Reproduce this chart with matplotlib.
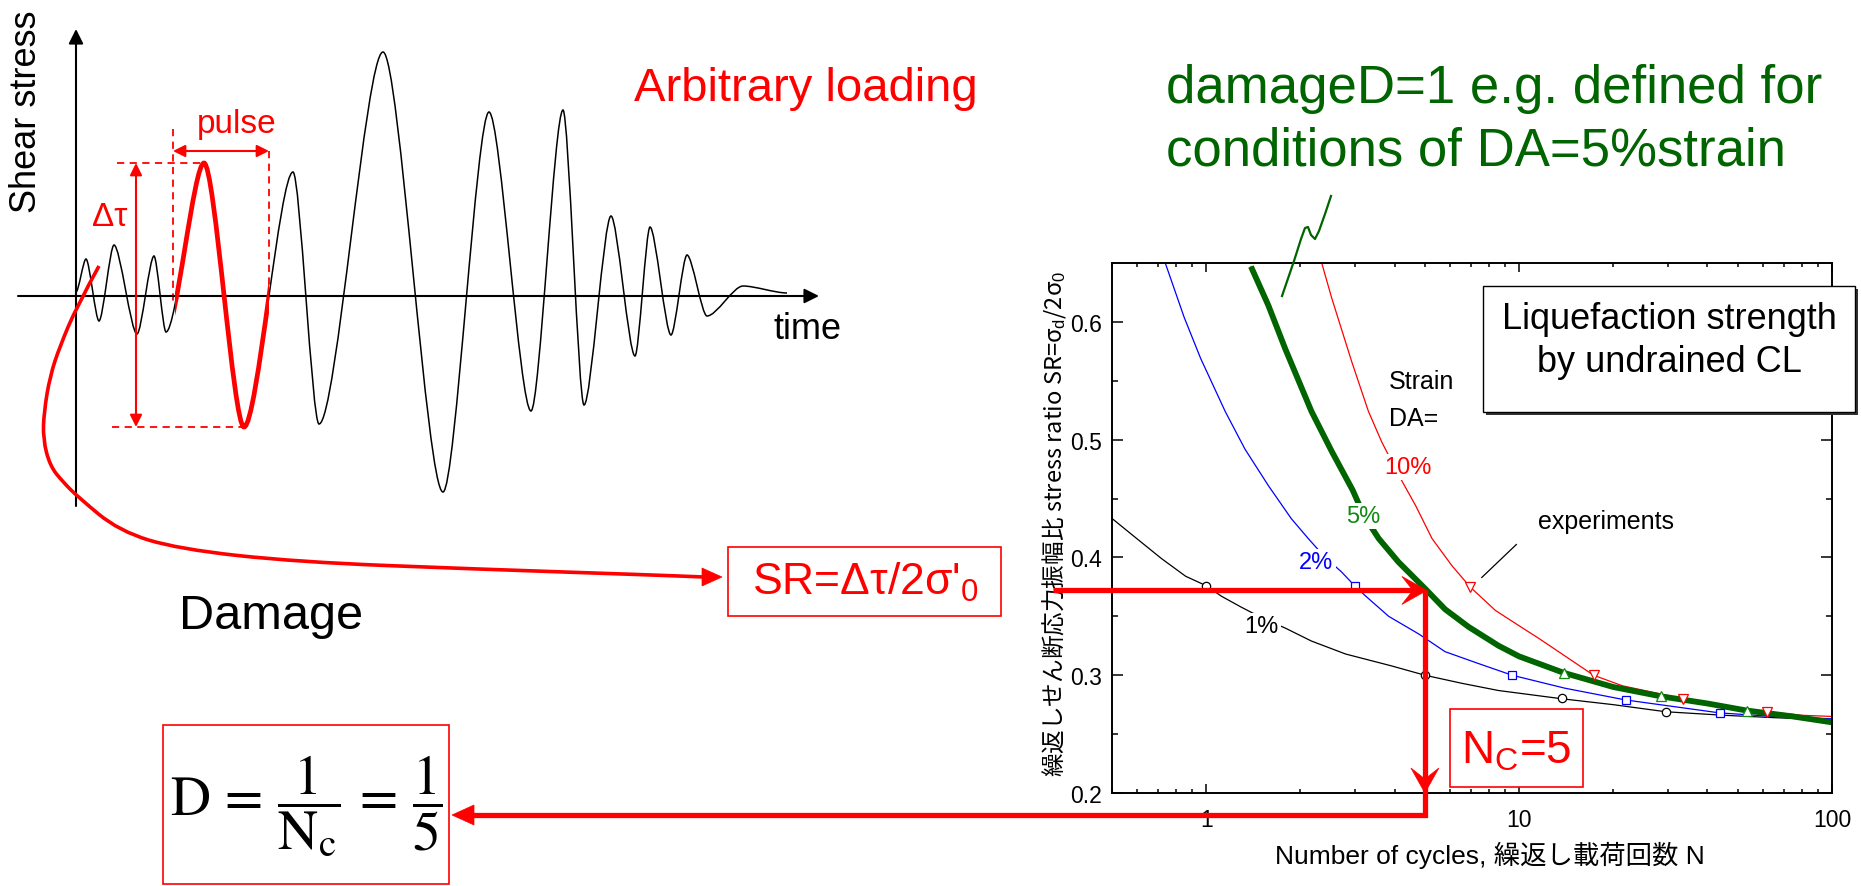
import matplotlib
matplotlib.use('Agg')
import matplotlib.pyplot as plt
from matplotlib import font_manager
from matplotlib.path import Path
from matplotlib.patches import PathPatch, Rectangle, Polygon
from matplotlib.ticker import FixedLocator, FixedFormatter, NullFormatter

W, H = 1861, 887
RED = '#ff0000'
DKGREEN = '#006400'

# left panel: arbitrary loading record, alternating peaks and troughs (time, shear stress)
wave_t = [0, 10, 23, 38, 61, 78, 90, 128, 168, 217, 243, 307, 367, 413, 455,
          487, 508, 535, 559, 574, 595, 611, 631, 667, 711]
wave_s = [4, 37, -25, 51, -38, 40, -36, 133, -131, 124, -128, 244, -196, 184, -115,
          186, -109, 80, -60, 69, -39, 41, -20, 10, 3]
pulse_window = (99, 193)

# right panel: liquefaction strength curves, SR against number of cycles N
n_1 = [0.49, 0.6, 0.72, 0.86, 1.0, 1.12, 1.29, 1.5, 1.79, 2.17, 2.79, 3.9, 5.0,
       6.6, 8.6, 13.7, 20, 29.4, 45, 65, 100]
sr_1 = [0.435, 0.416, 0.399, 0.384, 0.376, 0.367, 0.358, 0.349, 0.34, 0.329, 0.318,
        0.308, 0.300, 0.293, 0.287, 0.280, 0.275, 0.269, 0.266, 0.264, 0.262]
n_2 = [0.74, 0.85, 0.96, 1.15, 1.33, 1.58, 1.87, 2.12, 2.4, 2.7, 2.98, 3.24, 3.83,
       4.78, 5.8, 7.4, 9.5, 14, 21.9, 30, 43.8, 65, 100]
sr_2 = [0.65, 0.604, 0.569, 0.524, 0.492, 0.461, 0.433, 0.416, 0.40, 0.388, 0.376,
        0.367, 0.35, 0.335, 0.32, 0.31, 0.30, 0.289, 0.279, 0.274, 0.268, 0.265, 0.263]
n_5 = [1.39, 1.58, 1.79, 2.17, 2.52, 2.94, 3.2, 3.56, 4.12, 5.03, 5.8, 6.9, 8.6, 10,
       13.9, 20, 28.5, 40, 53.4, 75, 100]
sr_5 = [0.647, 0.614, 0.577, 0.524, 0.49, 0.457, 0.435, 0.416, 0.396, 0.373, 0.356,
        0.341, 0.325, 0.316, 0.302, 0.29, 0.282, 0.276, 0.27, 0.265, 0.26]
n_10 = [2.34, 2.52, 2.92, 3.3, 3.64, 4.18, 4.67, 5.27, 6.1, 6.97, 8.4, 10, 11.6,
        17.3, 21.4, 33.5, 45, 61.9, 80, 100]
sr_10 = [0.65, 0.62, 0.566, 0.524, 0.498, 0.467, 0.444, 0.416, 0.393, 0.375, 0.355,
         0.342, 0.331, 0.30, 0.291, 0.28, 0.274, 0.269, 0.266, 0.265]

# experiments (open markers)
exp_n_1 = [1.0, 5.0, 13.7, 29.4]
exp_sr_1 = [0.376, 0.300, 0.281, 0.269]
exp_n_2 = [2.98, 9.5, 21.9, 43.8]
exp_sr_2 = [0.376, 0.300, 0.279, 0.268]
exp_n_5 = [13.9, 28.5, 53.4]
exp_sr_5 = [0.302, 0.282, 0.270]
exp_n_10 = [6.97, 17.3, 33.5, 61.9]
exp_sr_10 = [0.375, 0.300, 0.280, 0.269]

sr_applied = 0.372
n_c = 5

x_ticks = [1, 10, 100]
x_tick_labels = ['1', '10', '100']
y_ticks = [0.2, 0.3, 0.4, 0.5, 0.6]
y_tick_labels = ['0.2', '0.3', '0.4', '0.5', '0.6']

# fonts
names = {f.name for f in font_manager.fontManager.ttflist}
NARROW = 'Liberation Sans Narrow' if 'Liberation Sans Narrow' in names else 'Liberation Sans'
plt.rcParams['font.family'] = ['Liberation Sans', 'Noto Sans CJK JP']
plt.rcParams['mathtext.fontset'] = 'custom'
plt.rcParams['mathtext.rm'] = 'Liberation Sans'
plt.rcParams['mathtext.it'] = 'Liberation Sans:italic'
plt.rcParams['mathtext.bf'] = 'Liberation Sans:bold'
plt.rcParams['mathtext.sf'] = 'Liberation Sans'


def extrema_path(ts, ss, k=0.27):
    # cubic segments with flat tangents at every peak / trough
    verts = [(ts[0], ss[0])]
    codes = [Path.MOVETO]
    for t0, s0, t1, s1 in zip(ts, ss, ts[1:], ss[1:]):
        dt = t1 - t0
        verts += [(t0 + k * dt, s0), (t1 - k * dt, s1), (t1, s1)]
        codes += [Path.CURVE4] * 3
    return Path(verts, codes)


def smooth_poly(pts):
    verts = [pts[0]]
    codes = [Path.MOVETO]
    for a, b in zip(pts[1:-1], pts[2:]):
        verts += [a, ((a[0] + b[0]) / 2, (a[1] + b[1]) / 2)]
        codes += [Path.CURVE3] * 2
    verts.append(pts[-1])
    codes.append(Path.LINETO)
    return Path(verts, codes)


def head(ax, tip, direction, length, half, notch=0.0, color=RED):
    dx, dy = direction
    x, y = tip
    px, py = -dy, dx
    bx, by = x - dx * length, y - dy * length
    pts = [(x, y), (bx + px * half, by + py * half),
           (x - dx * (length - notch), y - dy * (length - notch)),
           (bx - px * half, by - py * half)]
    ax.add_patch(Polygon(pts, closed=True, fc=color, ec=color, lw=0.5, zorder=6))


fig = plt.figure(figsize=(W / 100, H / 100), dpi=100)

# ---------------- left: loading record ----------------
ax_w = fig.add_axes([0, 0, 1, 1], zorder=1)
ax_w.set_xlim(-76, W - 76)
ax_w.set_ylim(297 - H, 297)
ax_w.axis('off')

ax_w.annotate('', xy=(0, 267), xytext=(0, -210),
              arrowprops=dict(arrowstyle='-|>', color='black', lw=1.5,
                              mutation_scale=22, shrinkA=0, shrinkB=0))
ax_w.annotate('', xy=(743, 0), xytext=(-58, 0),
              arrowprops=dict(arrowstyle='-|>', color='black', lw=1.5,
                              mutation_scale=22, shrinkA=0, shrinkB=0))

wave = extrema_path(wave_t, wave_s)
ax_w.add_patch(PathPatch(wave, fill=False, ec='black', lw=1.1, zorder=3))
pulse = PathPatch(wave, fill=False, ec=RED, lw=3.4, zorder=4)
ax_w.add_patch(pulse)
clip = Rectangle((pulse_window[0], -400), pulse_window[1] - pulse_window[0], 800,
                 transform=ax_w.transData)
pulse.set_clip_path(clip)

in_win = [(t, s) for t, s in zip(wave_t, wave_s) if pulse_window[0] <= t <= pulse_window[1]]
peak_t, peak_s = max(in_win, key=lambda p: p[1])
trough_t, trough_s = min(in_win, key=lambda p: p[1])

dash = dict(color=RED, lw=1.3, ls=(0, (4, 3)))
dtau_t = 60
ax_w.plot([dtau_t - 19, peak_t], [peak_s, peak_s], **dash)
ax_w.plot([dtau_t - 24, trough_t], [trough_s, trough_s], **dash)
ax_w.plot([pulse_window[0] - 2] * 2, [peak_s + 34, -8], **dash)
ax_w.plot([pulse_window[1]] * 2, [145, 4], **dash)
ax_w.annotate('', xy=(pulse_window[1], 145), xytext=(pulse_window[0] - 2, 145),
              arrowprops=dict(arrowstyle='<|-|>', color=RED, lw=1.5,
                              mutation_scale=18, shrinkA=0, shrinkB=0))
ax_w.annotate('', xy=(dtau_t, trough_s), xytext=(dtau_t, peak_s),
              arrowprops=dict(arrowstyle='<|-|>', color=RED, lw=1.5,
                              mutation_scale=18, shrinkA=0, shrinkB=0))

# ---------------- right: liquefaction strength ----------------
ax = fig.add_axes([1112 / W, (H - 794) / H, 720 / W, 530 / H], zorder=2)
ax.set_xscale('log')
ax.set_xlim(0.5, 100)
ax.set_ylim(0.2, 0.65)

ax.plot(n_1, sr_1, color='black', lw=0.9)
ax.plot(n_2, sr_2, color='#0000ff', lw=0.9)
ax.plot(n_10, sr_10, color=RED, lw=0.9)
ax.plot(n_5, sr_5, color='#118811', lw=0.9)
ax.plot(n_5, sr_5, color=DKGREEN, lw=4.2, solid_capstyle='butt')

ax.plot(exp_n_1, exp_sr_1, 'o', mfc='white', mec='black', ms=6, mew=0.9)
ax.plot(exp_n_2, exp_sr_2, 's', mfc='white', mec='#0000ff', ms=6, mew=0.9)
ax.plot(exp_n_5, exp_sr_5, '^', mfc='white', mec='#118811', ms=6.5, mew=0.9)
ax.plot(exp_n_10, exp_sr_10, 'v', mfc='white', mec=RED, ms=7.5, mew=0.9)

lbl = dict(fontsize=17, ha='center', va='center', family=NARROW,
           bbox=dict(fc='white', ec='none', pad=1.5))
ax.text(1.5, 0.342, '1%', color='black', **lbl)
ax.text(2.25, 0.396, '2%', color='#0000ff', **lbl)
ax.text(3.18, 0.435, '5%', color='#118811', **lbl)
ax.text(4.4, 0.477, '10%', color=RED, **lbl)
ax.text(3.83, 0.550, 'Strain', fontsize=18, va='center', family=NARROW)
ax.text(3.83, 0.518, 'DA=', fontsize=18, va='center', family=NARROW,
        bbox=dict(fc='white', ec='none', pad=1))
ax.text(19, 0.431, 'experiments', fontsize=18, ha='center', va='center', family=NARROW)
ax.plot([9.8, 7.6], [0.411, 0.383], color='black', lw=0.9)

ax.xaxis.set_major_locator(FixedLocator(x_ticks))
ax.xaxis.set_major_formatter(FixedFormatter(x_tick_labels))
ax.xaxis.set_minor_locator(FixedLocator([0.5, 0.6, 0.7, 0.8, 0.9] + list(range(2, 10))
                                        + list(range(20, 100, 10))))
ax.xaxis.set_minor_formatter(NullFormatter())
ax.yaxis.set_major_locator(FixedLocator(y_ticks))
ax.yaxis.set_major_formatter(FixedFormatter(y_tick_labels))
ax.yaxis.set_minor_locator(FixedLocator([0.25, 0.35, 0.45, 0.55]))
ax.tick_params(which='both', direction='in', top=True, right=True, width=1.1,
               labelsize=16.5)
ax.tick_params(axis='x', which='major', length=6.5, pad=11)
ax.tick_params(axis='x', which='minor', length=3)
ax.tick_params(axis='y', which='major', length=8, pad=7)
ax.tick_params(axis='y', which='minor', length=4.5)
for lab in ax.get_xticklabels() + ax.get_yticklabels():
    lab.set_family(NARROW)
for sp in ax.spines.values():
    sp.set_linewidth(1.4)

# ---------------- overlay in figure pixels ----------------
ov = fig.add_axes([0, 0, 1, 1], zorder=3)
ov.set_xlim(0, W)
ov.set_ylim(H, 0)
ov.axis('off')


def to_px(n, sr):
    x, y = ax.transData.transform((n, sr))
    return x, H - y


ov.text(27, 112, 'Shear stress', fontsize=26, rotation=90, ha='center', va='center')
ov.text(773, 330, 'time', fontsize=26, ha='left', va='center')
ov.text(806, 89, 'Arbitrary loading', fontsize=34, color=RED, ha='center', va='center')
ov.text(110, 218, 'Δτ', fontsize=24, color=RED, ha='center', va='center')
ov.text(237, 125, 'pulse', fontsize=24, color=RED, ha='center', va='center')
ov.text(271, 617, 'Damage', fontsize=35, ha='center', va='center')

# damage path from the record to the stress ratio
damage_pts = [(99, 267), (77, 307), (60, 347), (50, 377), (44, 413), (43, 440),
              (50, 467), (63, 483), (78, 498), (119, 532), (178, 550), (297, 563),
              (475, 570), (653, 576), (704, 578)]
ov.add_patch(PathPatch(smooth_poly(damage_pts), fill=False, ec=RED, lw=2.6, zorder=5))
head(ov, (722, 578), (1, 0), 20, 9)

ov.add_patch(Rectangle((728, 548), 273, 69, fill=False, ec=RED, lw=1.2))
ov.text(865, 582, "SR=Δτ/2σ'$_0$", fontsize=32, color=RED, ha='center', va='center')

# stress ratio -> number of cycles -> damage
xi, yi = to_px(n_c, sr_applied)
thick = dict(color=RED, lw=3.8, solid_capstyle='butt', solid_joinstyle='miter', zorder=6)
ov.plot([1053, xi - 12], [yi, yi], **thick)
ov.plot([xi, xi, 470], [yi, 816, 816], **thick)
head(ov, (xi + 2, yi), (1, 0), 25, 14, notch=11)
head(ov, (xi, 794), (0, 1), 25, 14, notch=11)
head(ov, (452, 816), (-1, 0), 22, 10)

ov.add_patch(Rectangle((1450, 710), 133, 78, fill=True, fc='white', ec=RED, lw=1.2, zorder=4))
ov.text(1516, 752, 'N$_\\mathrm{C}$=5', fontsize=33, color=RED, ha='center', va='center',
        zorder=5)

ov.add_patch(Rectangle((163, 726), 286, 159, fill=False, ec=RED, lw=1.2))
ov.text(306, 806, r'$\mathrm{D}\,=\,\dfrac{1}{\mathrm{N_c}}\,=\,\dfrac{1}{5}$', fontsize=40,
        math_fontfamily='stix', ha='center', va='center')

# axis labels of the strength chart
ov.text(1054, 524, '繰返しせん断応力振幅比 stress ratio SR=σ$_\\mathrm{d}$/2σ$_0$',
        fontsize=17, rotation=90, ha='center', va='center',
        family=['Noto Sans CJK JP', 'DejaVu Sans'])
ov.text(1490, 855, 'Number of cycles, 繰返し載荷回数 N', fontsize=19, ha='center',
        va='center', family=[NARROW, 'Noto Sans CJK JP'])

# title box
ov.add_patch(Rectangle((1486, 290), 372, 126, fc='#333333', ec='none', zorder=7))
ov.add_patch(Rectangle((1483, 287), 372, 126, fc='white', ec='black', lw=1, zorder=8))
ov.text(1669, 320, 'Liquefaction strength', fontsize=26, ha='center', va='center', zorder=9)
ov.text(1669, 363, 'by undrained CL', fontsize=26, ha='center', va='center', zorder=9)

# damage definition
ov.text(1166, 89, 'damageD=1 e.g. defined for', fontsize=38, color=DKGREEN, va='center')
ov.text(1166, 152, 'conditions of DA=5%strain', fontsize=38, color=DKGREEN, va='center')
leader = [(1331, 197), (1325, 215), (1319, 232), (1315, 240), (1311, 236), (1308, 228),
          (1305, 229), (1301, 240), (1294, 262), (1282, 297)]
ov.plot([p[0] for p in leader], [p[1] for p in leader], color=DKGREEN, lw=1.6)

fig.savefig('out.png', dpi=100)
